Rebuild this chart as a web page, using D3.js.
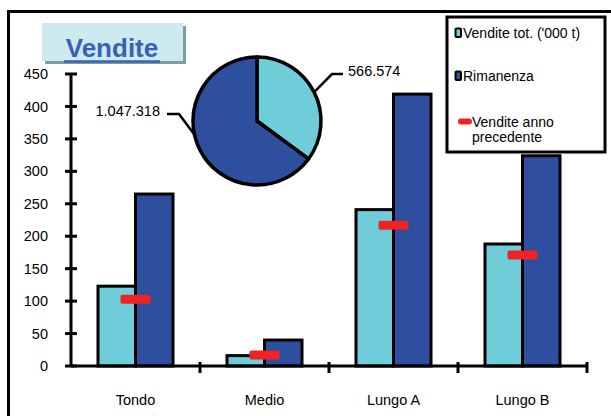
<!DOCTYPE html>
<html>
<head>
<meta charset="utf-8">
<script src="https://cdnjs.cloudflare.com/ajax/libs/d3/7.8.5/d3.min.js"></script>
<style>
  body { margin: 0; background: #fff; }
  text { font-family: "Liberation Sans", Arial, sans-serif; }
</style>
</head>
<body>
<div id="chart"></div>
<script>
// data
var categories = ["Tondo", "Medio", "Lungo A", "Lungo B"];
var venditeTot = [123, 16, 241, 188];
var rimanenza = [265, 40, 419, 324];
var venditePrec = [103, 17, 217, 171];
var yTicks = [0, 50, 100, 150, 200, 250, 300, 350, 400, 450];
var pieValues = [566574, 1047318];
var pieLabels = ["566.574", "1.047.318"];
var legendLabels = [["Vendite tot. ('000 t)"], ["Rimanenza"], ["Vendite anno", "precedente"]];

var light = "#6ecdd8", dark = "#2e4f9f", red = "#ee2424";

var width = 611, height = 416;
var svg = d3.select("#chart").append("svg")
    .attr("width", width)
    .attr("height", height);

// outer frame
svg.append("rect")
    .attr("x", 8.5).attr("y", 11.5)
    .attr("width", 620).attr("height", 420)
    .attr("fill", "none").attr("stroke", "#000").attr("stroke-width", 3);

var x = d3.scaleBand().domain(categories).range([71, 587]);
var y = d3.scaleLinear().domain([0, 450]).range([366, 74]);
var barW = 37.5;

// bars
var g = svg.append("g");
categories.forEach(function(c, i) {
    var cx = x(c) + x.bandwidth() / 2;
    g.append("rect")
        .attr("x", cx - barW).attr("y", y(venditeTot[i]))
        .attr("width", barW).attr("height", y(0) - y(venditeTot[i]))
        .attr("fill", light).attr("stroke", "#000").attr("stroke-width", 3);
    g.append("rect")
        .attr("x", cx).attr("y", y(rimanenza[i]))
        .attr("width", barW).attr("height", y(0) - y(rimanenza[i]))
        .attr("fill", dark).attr("stroke", "#000").attr("stroke-width", 3);
    g.append("rect")
        .attr("x", cx - 15).attr("y", y(venditePrec[i]) - 4.5)
        .attr("width", 30).attr("height", 9)
        .attr("rx", 2)
        .attr("fill", red);
});

// y axis
var ya = svg.append("g");
ya.append("line")
    .attr("x1", 71).attr("x2", 71).attr("y1", y(450)).attr("y2", y(0))
    .attr("stroke", "#000").attr("stroke-width", 3);
yTicks.forEach(function(t) {
    ya.append("line")
        .attr("x1", 65).attr("x2", 77).attr("y1", y(t)).attr("y2", y(t))
        .attr("stroke", "#000").attr("stroke-width", 3);
    ya.append("text")
        .attr("x", 48).attr("y", y(t)).attr("dy", "0.35em")
        .attr("text-anchor", "end")
        .style("font-size", "14.5px")
        .text(t);
});

// x axis
var xa = svg.append("g");
xa.append("line")
    .attr("x1", 71).attr("x2", 587).attr("y1", y(0)).attr("y2", y(0))
    .attr("stroke", "#000").attr("stroke-width", 3);
categories.forEach(function(c, i) {
    var xx = i < categories.length - 1 ? x(categories[i + 1]) : x.range()[1];
    xa.append("line")
        .attr("x1", xx).attr("x2", xx).attr("y1", y(0) - 4).attr("y2", y(0) + 7)
        .attr("stroke", "#000").attr("stroke-width", 3);
    xa.append("text")
        .attr("x", x(c) + x.bandwidth() / 2).attr("y", 405)
        .attr("text-anchor", "middle")
        .style("font-size", "14.5px")
        .text(c);
});

// title box
svg.append("rect")
    .attr("x", 45).attr("y", 26).attr("width", 141).attr("height", 38)
    .attr("fill", "#7d9c9e");
svg.append("rect")
    .attr("x", 42).attr("y", 23).attr("width", 141).attr("height", 38)
    .attr("fill", "#cdeaf0");
svg.append("text")
    .attr("x", 112).attr("y", 57)
    .attr("text-anchor", "middle")
    .style("font-size", "26px").style("font-weight", "bold")
    .attr("fill", "#3a62b4")
    .text("Vendite");
svg.append("line")
    .attr("x1", 64).attr("x2", 160).attr("y1", 61.5).attr("y2", 61.5)
    .attr("stroke", "#3a62b4").attr("stroke-width", 2.5);

// pie
var pcx = 257, pcy = 121, pr = 64;
var pie = d3.pie().sort(null)(pieValues);
var arc = d3.arc().innerRadius(0).outerRadius(pr);
var pg = svg.append("g").attr("transform", "translate(" + pcx + "," + pcy + ")");
pg.selectAll("path").data(pie).enter().append("path")
    .attr("d", arc)
    .attr("fill", function(d, i) { return i === 0 ? light : dark; })
    .attr("stroke", "#000").attr("stroke-width", 3.5)
    .attr("stroke-linejoin", "round");

// pie labels with leader lines: [elbow x, elbow y, line end x, text x]
var labelPos = [[75, -47, 86, 91], [-78, -7, -90, -97]];
var angleShift = [0, 0.25];
pie.forEach(function(d, i) {
    var a = (d.startAngle + d.endAngle) / 2 + angleShift[i];
    var p0 = [pr * Math.sin(a), -pr * Math.cos(a)];
    var lp = labelPos[i];
    pg.append("polyline")
        .attr("points", [p0, [lp[0], lp[1]], [lp[2], lp[1]]].map(function(p) { return p.join(","); }).join(" "))
        .attr("fill", "none").attr("stroke", "#000").attr("stroke-width", 2.5);
    pg.append("text")
        .attr("x", lp[3])
        .attr("y", lp[1] - 3).attr("dy", "0.35em")
        .attr("text-anchor", i === 0 ? "start" : "end")
        .style("font-size", "14.5px")
        .text(pieLabels[i]);
});

// legend
var lg = svg.append("g");
lg.append("rect")
    .attr("x", 447).attr("y", 17).attr("width", 158).attr("height", 135)
    .attr("fill", "#fff").attr("stroke", "#000").attr("stroke-width", 3);
var legendY = [38, 81, 127];
var legendColors = [light, dark, red];
legendLabels.forEach(function(lines, i) {
    if (i < 2) {
        lg.append("rect")
            .attr("x", 455.5).attr("y", legendY[i] - 9.5)
            .attr("width", 5.5).attr("height", 8.5).attr("rx", 1)
            .attr("fill", legendColors[i]).attr("stroke", "#000").attr("stroke-width", 2);
    } else {
        lg.append("rect")
            .attr("x", 458).attr("y", legendY[i] - 8.5)
            .attr("width", 14).attr("height", 6).attr("rx", 3)
            .attr("fill", red);
    }
    lines.forEach(function(t, j) {
        lg.append("text")
            .attr("x", i < 2 ? 463 : 472).attr("y", legendY[i] + j * 15)
            .style("font-size", "14px")
            .text(t);
    });
});
</script>
</body>
</html>
